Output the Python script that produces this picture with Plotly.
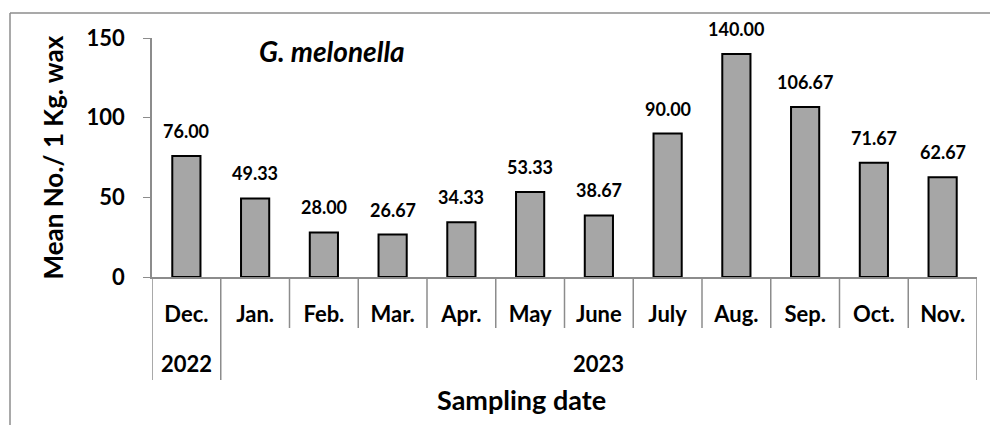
import plotly.graph_objects as go

months = ["Dec.", "Jan.", "Feb.", "Mar.", "Apr.", "May", "June", "July", "Aug.", "Sep.", "Oct.", "Nov."]
years = ["2022", "2023"]
year_counts = [1, 11]
values = [76.00, 49.33, 28.00, 26.67, 34.33, 53.33, 38.67, 90.00, 140.00, 106.67, 71.67, 62.67]
value_labels = [f"{v:.2f}" for v in values]

W, H = 990, 425
L, R, T, B = 152, 13, 38, 148
PW, PH = W - L - R, H - T - B

def px_x(p):
    return (p - L) / PW

def px_y(p):
    return (H - B - p) / PH

FONT = "Lato"
GRAY = "#8c8c8c"

fig = go.Figure()
fig.add_trace(go.Bar(
    x=list(range(len(months))), y=values, width=0.41,
    marker=dict(color="#a6a6a6", line=dict(color="black", width=2)),
    hoverinfo="skip",
))

anns = []
for i, (v, t) in enumerate(zip(values, value_labels)):
    anns.append(dict(x=i, y=v, text=f"<b>{t}</b>", showarrow=False, yanchor="bottom",
                     xanchor="center", yshift=12,
                     font=dict(family=FONT, size=18, color="black")))

shapes = []
boundaries = [0, year_counts[0], len(months)]
for i in range(len(months) + 1):
    xb = i - 0.5
    long = i in boundaries
    shapes.append(dict(type="line", xref="x", yref="paper", x0=xb, x1=xb,
                       y0=0, y1=px_y(380 if long else 328),
                       line=dict(color=GRAY, width=1.5)))

# year labels
start = 0
for yr, n in zip(years, year_counts):
    anns.append(dict(x=start + (n - 1) / 2, y=px_y(363), xref="x", yref="paper",
                     xanchor="center", yanchor="middle",
                     text=f"<b>{yr}</b>", showarrow=False,
                     font=dict(family=FONT, size=22, color="black")))
    start += n

anns.append(dict(x=px_x(521), y=px_y(400), xref="paper", yref="paper",
                 xanchor="center", yanchor="middle",
                 text="<b>Sampling date</b>", showarrow=False,
                 font=dict(family=FONT, size=27, color="black")))
anns.append(dict(x=px_x(52), y=0.5, xref="paper", yref="paper", textangle=-90,
                 xanchor="center", yanchor="middle",
                 text="<b>Mean No./ 1 Kg. wax</b>", showarrow=False,
                 font=dict(family=FONT, size=26, color="black")))
anns.append(dict(x=px_x(332), y=px_y(51), xref="paper", yref="paper",
                 xanchor="center", yanchor="middle",
                 text="<b><i>G. melonella</i></b>", showarrow=False,
                 font=dict(family=FONT, size=28, color="black")))

# outer frame (top and left)
shapes.append(dict(type="line", xref="paper", yref="paper", x0=px_x(10), x1=px_x(990),
                   y0=px_y(13), y1=px_y(13), line=dict(color=GRAY, width=1.5)))
shapes.append(dict(type="line", xref="paper", yref="paper", x0=px_x(10), x1=px_x(10),
                   y0=px_y(13), y1=px_y(425), line=dict(color=GRAY, width=1.5)))

fig.update_layout(
    width=W, height=H, margin=dict(l=L, r=R, t=T, b=B),
    paper_bgcolor="white", plot_bgcolor="white", showlegend=False,
    annotations=anns, shapes=shapes,
    xaxis=dict(tickmode="array", tickvals=list(range(len(months))),
               ticktext=[f"<b>{m}</b>" for m in months],
               range=[-0.5, len(months) - 0.5], showline=True, linecolor=GRAY, linewidth=1.5,
               ticks="", showgrid=False, zeroline=False, ticklabelstandoff=17,
               tickfont=dict(family=FONT, size=22, color="black")),
    yaxis=dict(range=[0, 150], tickvals=[0, 50, 100, 150],
               ticktext=["<b>0</b>", "<b>50</b>", "<b>100</b>", "<b>150</b>"],
               showline=True, linecolor=GRAY, linewidth=1.5, ticks="outside", ticklen=7,
               tickcolor=GRAY, showgrid=False, zeroline=False, ticklabelstandoff=14,
               tickfont=dict(family=FONT, size=22, color="black")),
)

fig.write_html("out.html", config={"displayModeBar": False},
               post_script="document.body.style.margin='0';document.body.style.overflow='hidden';")
